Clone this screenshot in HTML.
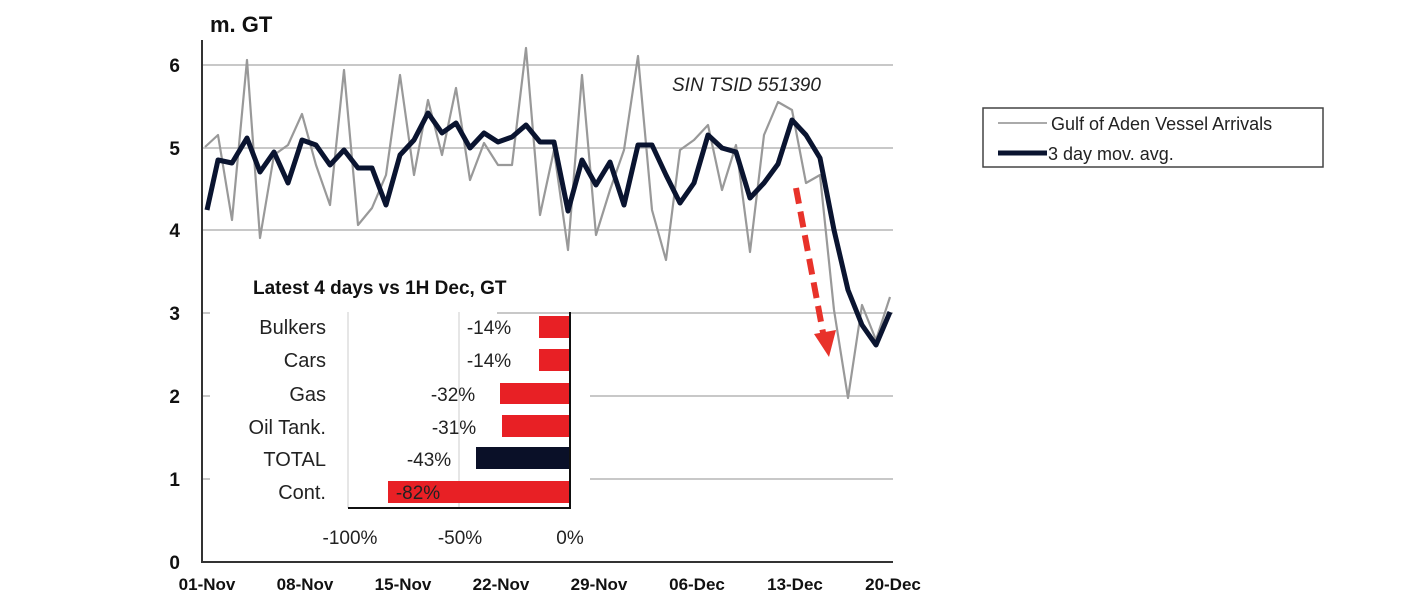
<!DOCTYPE html>
<html><head><meta charset="utf-8"><style>
html,body{margin:0;padding:0;background:#fff;}
svg text{font-family:"Liberation Sans",sans-serif;}
</style></head><body>
<svg width="1420" height="600" viewBox="0 0 1420 600" xmlns="http://www.w3.org/2000/svg">
<rect width="1420" height="600" fill="#fff"/>
<g stroke="#c8c8c8" stroke-width="2">
<line x1="202" y1="65" x2="893" y2="65"/>
<line x1="202" y1="148" x2="893" y2="148"/>
<line x1="202" y1="230" x2="893" y2="230"/>
<line x1="202" y1="313" x2="210" y2="313"/><line x1="497" y1="313" x2="893" y2="313"/>
<line x1="202" y1="396" x2="210" y2="396"/><line x1="590" y1="396" x2="893" y2="396"/>
<line x1="202" y1="479" x2="210" y2="479"/><line x1="590" y1="479" x2="893" y2="479"/>
</g>
<line x1="202" y1="40" x2="202" y2="563" stroke="#333" stroke-width="2"/>
<line x1="201" y1="562" x2="893" y2="562" stroke="#333" stroke-width="2"/>
<g font-size="19" font-weight="bold" fill="#111" text-anchor="end">
<text x="180" y="72">6</text><text x="180" y="155">5</text><text x="180" y="237">4</text>
<text x="180" y="320">3</text><text x="180" y="403">2</text><text x="180" y="486">1</text><text x="180" y="569">0</text>
</g>
<text x="210" y="32" font-size="22" font-weight="bold" fill="#111">m. GT</text>
<g font-size="17" font-weight="bold" fill="#111" text-anchor="middle">
<text x="207" y="590">01-Nov</text><text x="305" y="590">08-Nov</text><text x="403" y="590">15-Nov</text>
<text x="501" y="590">22-Nov</text><text x="599" y="590">29-Nov</text><text x="697" y="590">06-Dec</text>
<text x="795" y="590">13-Dec</text><text x="893" y="590">20-Dec</text>
</g>
<text x="672" y="91" font-size="19" font-style="italic" fill="#222">SIN TSID 551390</text>
<polyline fill="none" stroke="#999" stroke-width="2.2" stroke-linejoin="round" points="205,147 218,135 232,220 247,60 260,238 274,155 288,145 302,114 316,165 330,205 344,70 358,225 372,208 386,175 400,75 414,175 428,100 442,155 456,88 470,180 484,143 498,165 512,165 526,48 540,215 554,150 568,250 582,75 596,235 610,190 624,150 638,56 652,210 666,260 680,150 694,140 708,125 722,190 736,145 750,252 764,135 778,102 792,110 806,183 820,175 834,310 848,398 862,305 876,340 890,297"/>
<polyline fill="none" stroke="#0a1430" stroke-width="5" stroke-linejoin="round" points="207,210 218,160 232,163 247,138 260,172 274,152 288,183 302,140 316,145 330,165 344,150 358,168 372,168 386,205 400,155 414,140 428,113 442,133 456,123 470,148 484,133 498,142 512,137 526,125 540,142 554,142 568,211 582,160 596,185 610,162 624,205 638,145 652,145 666,175 680,203 694,183 708,135 722,148 736,152 750,198 764,183 778,164 792,120 806,135 820,158 834,230 848,290 862,325 876,345 890,312"/>
<line x1="796" y1="188" x2="824" y2="338" stroke="#e8322a" stroke-width="6" stroke-dasharray="16,8"/>
<polygon points="814,334 836,330 829,357" fill="#e8322a"/>
<text x="253" y="294" font-size="19" font-weight="bold" fill="#111">Latest 4 days vs 1H Dec, GT</text>
<line x1="348" y1="312" x2="348" y2="508" stroke="#ddd" stroke-width="1.5"/>
<line x1="459" y1="312" x2="459" y2="508" stroke="#ddd" stroke-width="1.5"/>
<rect x="539" y="316" width="31" height="22" fill="#e82025"/>
<rect x="539" y="349" width="31" height="22" fill="#e82025"/>
<rect x="500" y="383" width="70" height="21" fill="#e82025"/>
<rect x="502" y="415" width="68" height="22" fill="#e82025"/>
<rect x="476" y="447" width="94" height="22" fill="#0a1028"/>
<rect x="388" y="481" width="182" height="22" fill="#e82025"/>
<line x1="570" y1="312" x2="570" y2="509" stroke="#111" stroke-width="2"/>
<line x1="348" y1="508" x2="571" y2="508" stroke="#111" stroke-width="2"/>
<g font-size="20" fill="#222" text-anchor="end">
<text x="326" y="334">Bulkers</text><text x="326" y="367">Cars</text><text x="326" y="401">Gas</text>
<text x="326" y="434">Oil Tank.</text><text x="326" y="466">TOTAL</text><text x="326" y="499">Cont.</text>
</g>
<g font-size="19" fill="#222" text-anchor="middle">
<text x="489" y="334">-14%</text><text x="489" y="367">-14%</text><text x="453" y="401">-32%</text>
<text x="454" y="434">-31%</text><text x="429" y="466">-43%</text><text x="418" y="499">-82%</text>
<text x="350" y="544">-100%</text><text x="460" y="544">-50%</text><text x="570" y="544">0%</text>
</g>
<rect x="983" y="108" width="340" height="59" fill="#fff" stroke="#444" stroke-width="1.5"/>
<line x1="998" y1="123" x2="1047" y2="123" stroke="#aaa" stroke-width="2"/>
<line x1="998" y1="153" x2="1047" y2="153" stroke="#0a1430" stroke-width="5"/>
<text x="1051" y="130" font-size="18" fill="#222">Gulf of Aden Vessel Arrivals</text>
<text x="1048" y="160" font-size="18" fill="#222">3 day mov. avg.</text>
</svg>
</body></html>
